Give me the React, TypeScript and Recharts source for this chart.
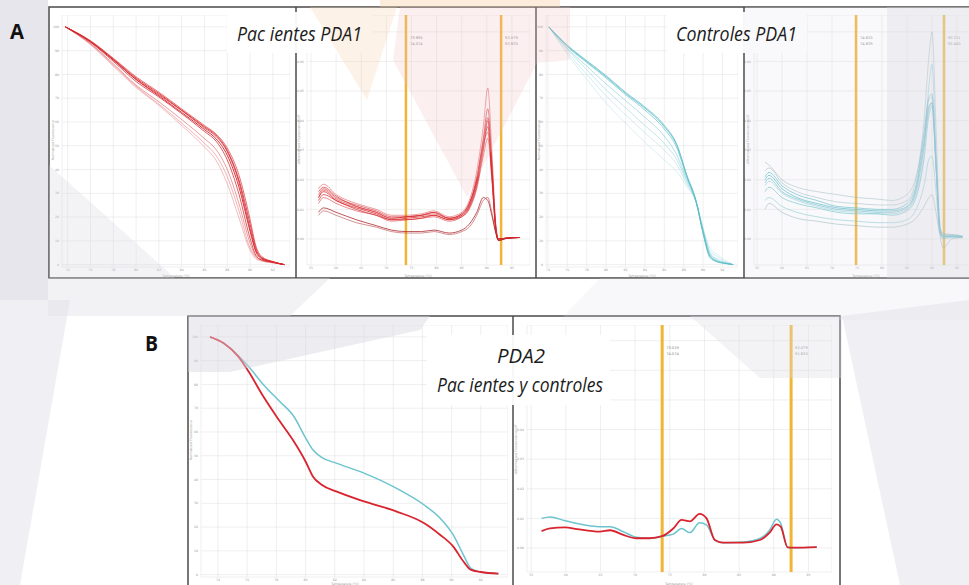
import React from 'react';
import { LineChart, Line, XAxis, YAxis, CartesianGrid, ReferenceLine } from 'recharts';

// A - Pacientes PDA1: normalized melt curves
const pacMeltTemps = [73.8, 76, 78, 80, 82, 84, 86, 87, 88, 89, 90, 90.5, 91, 92, 93];
const pacMelt = [
  [100, 93.7, 86, 77.8, 71, 64, 56.8, 53, 46, 33, 14, 5.5, 2.5, 1, 0],
  [100, 93.5, 85.5, 77, 70.5, 63.5, 56, 52, 44, 30, 11, 4, 2, 1, 0],
  [100, 94, 86.5, 78.5, 72, 65, 58, 54.5, 48, 36, 17, 7, 3, 1.2, 0],
  [100, 93, 84.5, 75.5, 68.5, 61, 53, 48.5, 40, 26, 9, 3.5, 2, 1, 0],
  [100, 92.8, 84, 75, 67.5, 59.5, 51, 46, 37, 23, 7, 3, 1.8, 0.8, 0],
  [100, 93.8, 86.2, 78, 71.5, 64.8, 57.5, 54, 47.5, 35, 15, 6, 2.8, 1.1, 0],
  [100, 94.2, 86.8, 79, 72.5, 65.5, 58.5, 55, 49, 38, 19, 8, 3.5, 1.3, 0],
  [100, 92.5, 83.5, 74.5, 67, 58.5, 49.5, 44, 34, 20, 6, 2.5, 1.5, 0.7, 0],
];

// A - Pacientes PDA1: derivative curves
const pacDerivTemps = [56.5, 57.5, 60, 64, 68, 71, 74, 77, 79.5, 82.5, 85, 86.5, 88, 89.3, 90.2, 91, 91.8, 92.3, 94, 96.5];
const pacDeriv = [
  [0.014, 0.016, 0.013, 0.0105, 0.0085, 0.0065, 0.007, 0.0075, 0.008, 0.0065, 0.008, 0.011, 0.019, 0.031, 0.038, 0.022, 0.003, 0, 0.0003, 0.0005],
  [0.015, 0.017, 0.014, 0.0115, 0.0095, 0.0075, 0.0075, 0.008, 0.009, 0.007, 0.0085, 0.012, 0.021, 0.034, 0.044, 0.026, 0.004, 0, 0.0003, 0.0005],
  [0.012, 0.014, 0.012, 0.0095, 0.008, 0.006, 0.0065, 0.007, 0.0075, 0.006, 0.0075, 0.01, 0.017, 0.028, 0.034, 0.02, 0.003, 0, 0.0003, 0.0005],
  [0.017, 0.0185, 0.015, 0.012, 0.01, 0.008, 0.008, 0.0085, 0.0095, 0.0075, 0.009, 0.013, 0.023, 0.038, 0.051, 0.03, 0.005, 0, 0.0003, 0.0005],
  [0.013, 0.015, 0.013, 0.01, 0.008, 0.0065, 0.0065, 0.007, 0.008, 0.0065, 0.0075, 0.0105, 0.018, 0.03, 0.04, 0.023, 0.0035, -0.0005, 0.0003, 0.0005],
  [0.009, 0.0105, 0.009, 0.0065, 0.0045, 0.003, 0.0025, 0.0025, 0.003, 0.002, 0.003, 0.005, 0.009, 0.014, 0.013, 0.008, 0.002, -0.0005, 0.0002, 0.0005],
  [0.008, 0.0095, 0.008, 0.0055, 0.004, 0.0025, 0.002, 0.002, 0.0025, 0.0015, 0.0025, 0.004, 0.008, 0.013, 0.014, 0.009, 0.002, -0.0005, 0.0002, 0.0005],
  [0.016, 0.0175, 0.0145, 0.011, 0.009, 0.007, 0.0075, 0.008, 0.009, 0.007, 0.0085, 0.012, 0.02, 0.033, 0.041, 0.025, 0.004, 0, 0.0003, 0.0005],
  [0.014, 0.0165, 0.0135, 0.011, 0.009, 0.007, 0.0075, 0.008, 0.0085, 0.007, 0.008, 0.0115, 0.02, 0.032, 0.036, 0.021, 0.003, 0, 0.0003, 0.0005],
];

// A - Controles PDA1: normalized melt curves
const ctlMeltTemps = [74.1, 76, 78, 80, 82, 84, 86, 87.3, 88.3, 89.3, 90, 90.7, 91.4, 92.2, 93.1];
const ctlMelt = [
  [100, 92, 85.4, 79, 72, 65.8, 58, 50, 37.5, 26, 13.5, 3.5, 1.4, 0.6, 0],
  [100, 91.7, 85, 78.5, 71.5, 65, 57, 49, 37, 26, 13.5, 4, 1.6, 0.7, 0],
  [100, 91, 83.5, 76, 69, 62, 54, 46, 36, 26.5, 14, 4.5, 2, 0.8, 0],
  [100, 90.5, 82, 73.5, 66, 58.5, 51, 44, 35, 26, 14.5, 5, 2.5, 1, 0],
  [100, 89.5, 80, 71, 63, 55.5, 48, 42, 34, 26.5, 15, 6, 3.5, 1.5, 0],
  [100, 88.5, 78, 68, 59.5, 51.5, 44, 39, 33, 26, 15.5, 7, 4.5, 2, 0],
  [100, 92.3, 85.8, 79.5, 72.5, 66.3, 58.6, 50.5, 38, 26.5, 13, 3, 1.2, 0.5, 0],
];

// A - Controles PDA1: derivative curves
const ctlDerivTemps = [56.6, 57.4, 60, 63, 67, 71, 75, 79, 82, 85, 86.8, 88.4, 89.4, 90, 90.8, 91.6, 92.2, 94, 96.1];
const ctlDeriv = [
  [0.02, 0.0215, 0.017, 0.014, 0.012, 0.0105, 0.01, 0.0095, 0.0095, 0.011, 0.017, 0.033, 0.045, 0.046, 0.025, 0.003, 0.001, 0.001, 0.0008],
  [0.023, 0.024, 0.019, 0.016, 0.014, 0.0125, 0.012, 0.0115, 0.0115, 0.013, 0.02, 0.04, 0.062, 0.07, 0.038, 0.005, 0.0015, 0.0015, 0.001],
  [0.018, 0.0195, 0.0155, 0.013, 0.011, 0.0095, 0.009, 0.0085, 0.0085, 0.01, 0.015, 0.03, 0.052, 0.059, 0.03, 0.004, 0.001, 0.001, 0.0008],
  [0.016, 0.0175, 0.014, 0.012, 0.0105, 0.009, 0.0085, 0.0085, 0.008, 0.0095, 0.014, 0.027, 0.042, 0.045, 0.024, 0.002, 0.0005, 0.0008, 0.0006],
  [0.026, 0.025, 0.02, 0.0175, 0.016, 0.015, 0.014, 0.0135, 0.013, 0.015, 0.021, 0.035, 0.047, 0.048, 0.026, 0.003, 0.002, 0.0015, 0.001],
  [0.013, 0.014, 0.011, 0.009, 0.0075, 0.0065, 0.006, 0.0055, 0.0055, 0.0065, 0.01, 0.018, 0.027, 0.028, 0.016, 0.002, 0, 0.0005, 0.0005],
  [0.01, 0.012, 0.009, 0.007, 0.006, 0.005, 0.0045, 0.004, 0.004, 0.005, 0.007, 0.011, 0.014, 0.015, 0.009, 0.001, -0.003, 0, 0.0005],
  [0.021, 0.0225, 0.018, 0.015, 0.013, 0.011, 0.0105, 0.01, 0.01, 0.012, 0.018, 0.036, 0.048, 0.049, 0.027, 0.003, 0.001, 0.001, 0.0008],
  [0.019, 0.0205, 0.016, 0.0135, 0.0115, 0.01, 0.0095, 0.009, 0.009, 0.0105, 0.016, 0.031, 0.044, 0.046, 0.025, 0.0025, 0.0008, 0.0008, 0.0007],
];

// B - PDA2 pacientes y controles
const pda2MeltTemps = [73.45, 74.4, 75.4, 76.1, 77.1, 78.2, 79.2, 80, 80.5, 81.1, 82.1, 84, 86.2, 88.1, 89.2, 90.1, 90.8, 91.3, 92, 93.2];
const pda2MeltControles = [100, 97.3, 92, 87.5, 80, 73, 66.5, 57.5, 52.5, 49.3, 46.9, 42.7, 36.4, 29.4, 23.8, 16.8, 8.4, 2.8, 1.1, 0.4];
const pda2MeltPacientes = [100, 97.3, 91.7, 85.4, 75, 64.8, 56, 47.6, 41.3, 37.8, 35, 30.8, 26.6, 21.7, 16.8, 11.9, 5.6, 2.1, 1.1, 0.4];

const pda2DerivTemps = [56.5, 57.7, 59.9, 61.6, 64.9, 66.4, 68.3, 70.2, 72.1, 73.9, 75.5, 76.7, 77.9, 79.3, 80.3, 81.5, 82.7, 85.6, 88, 89.4, 90.4, 91, 92, 92.8, 96.2];
const pda2DerivControles = [0.01, 0.0105, 0.0092, 0.0083, 0.0072, 0.0072, 0.0055, 0.0036, 0.0033, 0.004, 0.0047, 0.0066, 0.0052, 0.0085, 0.0078, 0.0027, 0.0018, 0.002, 0.0032, 0.006, 0.0097, 0.0083, 0.0002, 0.0001, 0.0003];
const pda2DerivPacientes = [0.0057, 0.0066, 0.007, 0.0064, 0.0055, 0.006, 0.0044, 0.0033, 0.0033, 0.004, 0.0066, 0.0095, 0.009, 0.0115, 0.01, 0.0027, 0.0018, 0.0018, 0.0027, 0.0052, 0.008, 0.0072, 0.0002, 0.0001, 0.0003];

// tick labels (the upper derivative ticks sit under the title boxes, only their grid lines show)
const meltTicksX = [74, 76, 78, 80, 82, 84, 86, 88, 90, 92];
const meltTicksY = [0, 10, 20, 30, 40, 50, 60, 70, 80, 90, 100];
const derivTicksX = [55, 60, 65, 70, 75, 80, 85, 90, 95];
const pda1DerivTicksY = [0, 0.01, 0.02, 0.03, 0.04, 0.05, 0.06];
const pda1DerivHiddenY = [0.07];
const pda2DerivTicksY = [0, 0.01, 0.02, 0.03, 0.04];
const pda2DerivHiddenY = [0.05, 0.06, 0.07];

const RED = '#d6272d';
const CYAN = '#5bbcc8';
const YELLOW = '#f1b434';
const GRID = '#e4e4e4';

interface CurveStyle { color: string; opacity: number; width: number }
interface Mark { at: number; top: string; bottom: string }

interface PanelProps {
  x: number; y: number; w: number; h: number;
  temps: number[]; curves: number[][]; styles: CurveStyle[];
  xDomain: [number, number]; xTicks: number[];
  yDomain: [number, number]; yTicks: number[]; yHidden?: number[];
  yFormat: (v: number) => string;
  marks?: Mark[]; markWidth?: number;
}

const AXIS_W = 16;
const AXIS_H = 7;
const tickStyle = { fontSize: 3.2, fill: '#9a9a9a', fontFamily: 'DejaVu Sans' };

const markLabel = (m: Mark) => (props: any) => {
  const vb = props.viewBox || {};
  const lx = (vb.x || 0) + 4;
  const ly = (vb.y || 0) + 24;
  return (
    <g fontSize={3.6} fill="#888" fontFamily="DejaVu Sans">
      <text x={lx} y={ly}>{m.top}</text>
      <text x={lx} y={ly + 6}>{m.bottom}</text>
    </g>
  );
};

const Panel: React.FC<PanelProps> = (p) => {
  const rows = p.temps.map((t, i) => {
    const row: Record<string, number> = { t };
    p.curves.forEach((c, k) => { row['c' + k] = c[i]; });
    return row;
  });
  return (
    <div style={{ position: 'absolute', left: p.x - AXIS_W, top: p.y }}>
      <LineChart width={p.w + AXIS_W} height={p.h + AXIS_H + 4} data={rows}
        margin={{ top: 0, right: 0, bottom: 4, left: 0 }}>
        <CartesianGrid stroke={GRID} strokeWidth={0.6} />
        <XAxis dataKey="t" type="number" domain={p.xDomain} ticks={p.xTicks} allowDataOverflow
          interval={0} height={AXIS_H} tickLine={false} tickSize={0} axisLine={false} tickMargin={1.5} tick={tickStyle} />
        <YAxis type="number" domain={p.yDomain} ticks={p.yTicks} allowDataOverflow interval={0}
          width={AXIS_W} tickLine={false} tickSize={0} axisLine={false} tickMargin={3} tick={tickStyle}
          tickFormatter={p.yFormat} />
        {(p.yHidden || []).map((v) => (
          <ReferenceLine key={'g' + v} y={v} stroke={GRID} strokeWidth={0.6} />
        ))}
        {(p.marks || []).map((m) => (
          <ReferenceLine key={m.at} x={m.at} stroke={YELLOW} strokeWidth={p.markWidth || 2.5}
            label={markLabel(m)} />
        ))}
        {p.curves.map((_, k) => (
          <Line key={k} dataKey={'c' + k} type="monotone" dot={false} isAnimationActive={false}
            stroke={p.styles[k].color} strokeOpacity={p.styles[k].opacity}
            strokeWidth={p.styles[k].width} />
        ))}
      </LineChart>
    </div>
  );
};

const fmtInt = (v: number) => String(v);
const fmtDec = (v: number) => v.toFixed(2);

const pacMeltStyles = [0.95, 0.75, 0.85, 0.45, 0.35, 0.8, 0.65, 0.3].map((o) => ({ color: RED, opacity: o, width: 1 }));
const pacDerivStyles = [0.85, 0.7, 0.6, 0.5, 0.8, 0.85, 0.55, 0.75, 0.65].map((o, k) => ({
  color: k === 5 || k === 6 ? '#a81e24' : RED, opacity: o, width: 0.9,
}));
const ctlMeltStyles = [0.9, 0.7, 0.5, 0.4, 0.3, 0.25, 0.85].map((o) => ({ color: CYAN, opacity: o, width: 0.9 }));
const ctlDerivStyles = [0.9, 0.45, 0.5, 0.7, 0.45, 0.55, 0.5, 0.8, 0.75].map((o, k) => ({
  color: k === 1 || k === 4 || k === 6 ? '#6f9ea5' : CYAN, opacity: o, width: 0.9,
}));
const pda2Styles = [
  { color: '#6cc4ce', opacity: 1, width: 1.5 },
  { color: '#d9232e', opacity: 1, width: 1.8 },
];

const vText = (x: number, y: number, s: string) => (
  <text x={x} y={y} fontSize={3.2} fill="#999" textAnchor="middle" transform={`rotate(-90 ${x} ${y})`}>{s}</text>
);
const hText = (x: number, y: number, s: string) => (
  <text x={x} y={y} fontSize={3.2} fill="#999" textAnchor="middle">{s}</text>
);

const App: React.FC = () => {
  return (
    <div style={{ position: 'absolute', left: 0, top: 0, width: 969, height: 585, overflow: 'hidden', background: '#fff', fontFamily: 'Open Sans' }}>
      <Panel x={62} y={15} w={228} h={252} temps={pacMeltTemps} curves={pacMelt} styles={pacMeltStyles}
        xDomain={[73.5, 93.5]} xTicks={meltTicksX} yDomain={[-1, 105]} yTicks={meltTicksY} yFormat={fmtInt} />
      <Panel x={307} y={15} w={223} h={250} temps={pacDerivTemps} curves={pacDeriv} styles={pacDerivStyles}
        xDomain={[54.2, 98.6]} xTicks={derivTicksX} yDomain={[-0.0088, 0.0757]} yTicks={pda1DerivTicksY}
        yHidden={pda1DerivHiddenY} yFormat={fmtDec}
        marks={[{ at: 73.9, top: '73.895', bottom: '74.074' }, { at: 92.85, top: '92.079', bottom: '92.820' }]} />
      <Panel x={546} y={15} w={192} h={252} temps={ctlMeltTemps} curves={ctlMelt} styles={ctlMeltStyles}
        xDomain={[73.8, 93.6]} xTicks={meltTicksX} yDomain={[-1, 105]} yTicks={meltTicksY} yFormat={fmtInt} />
      <Panel x={754} y={15} w={222} h={250} temps={ctlDerivTemps} curves={ctlDeriv} styles={ctlDerivStyles}
        xDomain={[54.4, 98.8]} xTicks={derivTicksX} yDomain={[-0.0088, 0.0757]} yTicks={pda1DerivTicksY}
        yHidden={pda1DerivHiddenY} yFormat={fmtDec}
        marks={[{ at: 74.8, top: '74.620', bottom: '74.829' }, { at: 92.4, top: '92.211', bottom: '92.400' }]} />
      <Panel x={201} y={325} w={307} h={252} temps={pda2MeltTemps} curves={[pda2MeltControles, pda2MeltPacientes]}
        styles={pda2Styles} xDomain={[72.84, 93.86]} xTicks={meltTicksX} yDomain={[-1, 105]} yTicks={meltTicksY} yFormat={fmtInt} />
      <Panel x={527} y={325} w={305} h={247} temps={pda2DerivTemps} curves={[pda2DerivControles, pda2DerivPacientes]}
        styles={pda2Styles} xDomain={[54.4, 98.4]} xTicks={derivTicksX} yDomain={[-0.0081, 0.0753]} yTicks={pda2DerivTicksY}
        yHidden={pda2DerivHiddenY} yFormat={fmtDec} markWidth={3}
        marks={[{ at: 73.9, top: '73.019', bottom: '74.074' }, { at: 92.5, top: '92.079', bottom: '91.820' }]} />

      <svg width={969} height={585} style={{ position: 'absolute', left: 0, top: 0 }} fontFamily="DejaVu Sans">
        {hText(176, 276.5, 'Temperature (°C)')}
        {hText(418, 276.5, 'Temperature (°C)')}
        {hText(642, 276.5, 'Temperature (°C)')}
        {hText(866, 276.5, 'Temperature (°C)')}
        {hText(345, 584.5, 'Temperature (°C)')}
        {hText(679, 584.5, 'Temperature (°C)')}
        {vText(54, 140, 'Normalized Fluorescence')}
        {vText(300, 140, '-d(Normalized Fluorescence)/dT')}
        {vText(540, 140, 'Normalized Fluorescence')}
        {vText(749, 140, '-d(Normalized Fluorescence)/dT')}
        {vText(192, 440, 'Normalized Fluorescence')}
        {vText(517, 450, '-d(Normalized Fluorescence)/dT')}

        <g stroke="#4a4a4a" strokeWidth={1.5} fill="none">
          <rect x={49} y={7} width={940} height={271} />
          <line x1={296} y1={7} x2={296} y2={278} />
          <line x1={536} y1={7} x2={536} y2={278} />
          <line x1={744} y1={7} x2={744} y2={278} />
          <rect x={188} y={316} width={652} height={290} />
          <line x1={513} y1={316} x2={513} y2={600} />
        </g>

        <g fill="#fff" opacity={0.94}>
          <rect x={227} y={12} width={146} height={41} />
          <rect x={667} y={12} width={140} height={41} />
          <rect x={427} y={335} width={183} height={70} />
        </g>
      </svg>

      {/* watermark tint over the slide */}
      <svg width={969} height={585} style={{ position: 'absolute', left: 0, top: 0, pointerEvents: 'none' }}>
        <rect x={0} y={0} width={48} height={300} fill="#dedee6" opacity={0.75} />
        <polygon points="0,300 70,300 20,585 0,585" fill="#dedee6" opacity={0.45} />
        <polygon points="49,165 49,278 175,278" fill="#d6d6e0" opacity={0.3} />
        <polygon points="48,278 330,278 290,316 48,316" fill="#dedee6" opacity={0.4} />
        <polygon points="310,7 397,7 367,100" fill="#f7cfa8" opacity={0.28} />
        <polygon points="380,0 560,0 560,7 380,7" fill="#f7cfa8" opacity={0.4} />
        <polygon points="400,7 570,7 570,60 537,63 467,197 393,60" fill="#efc0c5" opacity={0.25} />
        <rect x={745} y={7} width={142} height={271} fill="#e2e2ea" opacity={0.2} />
        <rect x={887} y={7} width={82} height={271} fill="#d8d8e2" opacity={0.45} />
        <polygon points="600,278 969,278 969,320 560,320" fill="#dedee6" opacity={0.2} />
        <polygon points="188,316 430,316 420,330 230,372 188,372" fill="#d6d6e0" opacity={0.45} />
        <polygon points="690,316 842,316 842,378 760,378" fill="#dcdce4" opacity={0.35} />
        <polygon points="842,316 969,300 969,585 900,585" fill="#dedee6" opacity={0.45} />
      </svg>

      {/* titles and panel letters */}
      <svg width={969} height={585} style={{ position: 'absolute', left: 0, top: 0, pointerEvents: 'none' }}>
        <g fill="#1c1c1c" fontFamily="Open Sans" fontStyle="italic">
          <text x={237} y={41} fontSize={20} textLength={125} lengthAdjust="spacingAndGlyphs">Pac ientes PDA1</text>
          <text x={676} y={41} fontSize={20} textLength={121} lengthAdjust="spacingAndGlyphs">Controles PDA1</text>
          <text x={497} y={363} fontSize={20} textLength={48} lengthAdjust="spacingAndGlyphs">PDA2</text>
          <text x={437} y={392} fontSize={20} textLength={166} lengthAdjust="spacingAndGlyphs">Pac ientes y controles</text>
        </g>
        <g fill="#111" fontFamily="Open Sans" fontWeight="bold">
          <text x={10} y={39} fontSize={22} textLength={14} lengthAdjust="spacingAndGlyphs">A</text>
          <text x={145} y={351} fontSize={21} textLength={13} lengthAdjust="spacingAndGlyphs">B</text>
        </g>
      </svg>
    </div>
  );
};

export default App;
